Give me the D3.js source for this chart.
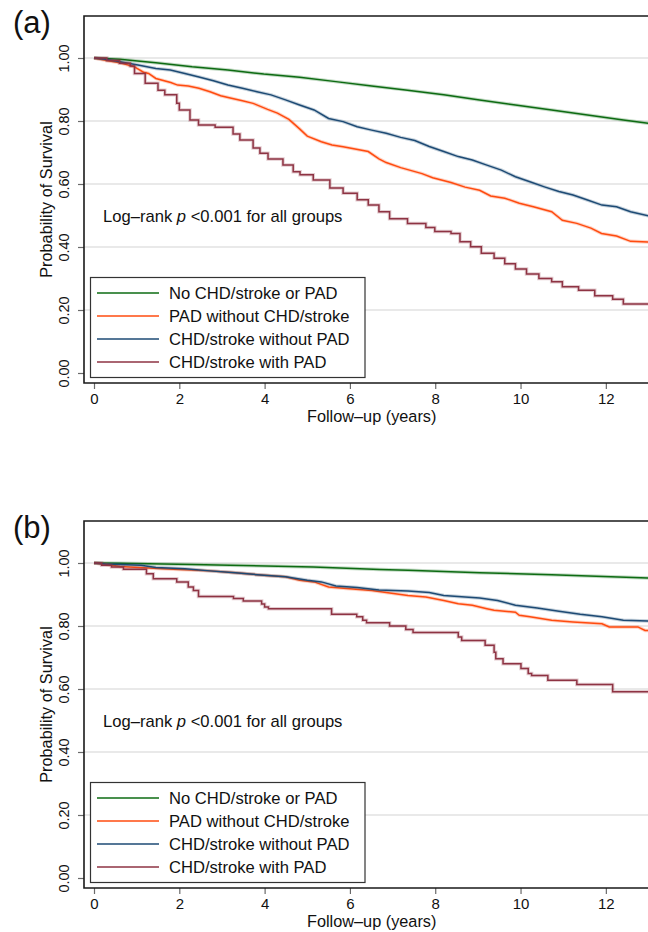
<!DOCTYPE html>
<html>
<head>
<meta charset="utf-8">
<script src="https://cdn.jsdelivr.net/npm/d3@7"></script>
<style>
body { margin: 0; background: #fff; }
text { font-family: "Liberation Sans", Arial, Helvetica, sans-serif; fill: #111; }
</style>
</head>
<body>
<div id="c"></div>
<script>
var groups = ["No CHD/stroke or PAD", "PAD without CHD/stroke", "CHD/stroke without PAD", "CHD/stroke with PAD"];
var colors = ["#0d6b12", "#ff4b0f", "#1d4a74", "#8e3343"];
var x_ticks = [0, 2, 4, 6, 8, 10, 12];
var y_ticks = [0, 0.2, 0.4, 0.6, 0.8, 1.0];
var grid_vals = [0.2, 0.4, 0.6, 0.8, 1.0];

// panel (a): [years, survival]
var a_none = [[0,1],[0.6,0.996],[1.45,0.985],[2.3,0.972],[3.14,0.962],[3.98,0.949],[4.82,0.939],[5.67,0.925],[6.51,0.911],[7.35,0.898],[8.2,0.883],[9.04,0.867],[9.88,0.851],[10.73,0.835],[11.57,0.819],[12.41,0.803],[13,0.793]];
var a_pad = [[0,1],[0.3,0.992],[0.61,0.985],[0.95,0.972],[1.16,0.955],[1.28,0.951],[1.45,0.935],[1.8,0.922],[1.96,0.914],[2.21,0.911],[2.46,0.904],[2.72,0.893],[2.97,0.88],[3.22,0.872],[3.48,0.864],[3.73,0.856],[4.07,0.837],[4.3,0.825],[4.57,0.805],[4.82,0.775],[5.0,0.752],[5.33,0.734],[5.58,0.724],[5.84,0.718],[6.43,0.703],[6.68,0.68],[6.85,0.668],[7.19,0.652],[7.69,0.633],[7.94,0.62],[8.37,0.605],[8.7,0.59],[9.04,0.58],[9.3,0.562],[9.63,0.555],[9.97,0.539],[10.3,0.528],[10.73,0.512],[10.98,0.485],[11.32,0.475],[11.65,0.46],[11.9,0.443],[12.25,0.435],[12.58,0.418],[13,0.416]];
var a_chd = [[0,1],[0.27,0.996],[0.61,0.988],[1.03,0.978],[1.45,0.967],[1.79,0.962],[2.13,0.951],[2.46,0.94],[2.8,0.928],[3.14,0.914],[3.48,0.904],[3.82,0.893],[4.15,0.883],[4.49,0.867],[4.82,0.851],[5.16,0.835],[5.5,0.808],[5.84,0.798],[6.17,0.782],[6.51,0.771],[6.85,0.761],[7.19,0.748],[7.52,0.738],[7.86,0.719],[8.2,0.703],[8.54,0.687],[8.87,0.676],[9.21,0.66],[9.55,0.644],[9.88,0.623],[10.22,0.607],[10.56,0.591],[10.9,0.576],[11.23,0.565],[11.57,0.549],[11.91,0.533],[12.25,0.528],[12.58,0.512],[13,0.499]];
var a_both = [[0,1],[0.3,0.992],[0.6,0.983],[0.85,0.975],[0.95,0.951],[1.2,0.92],[1.5,0.898],[1.66,0.883],[1.94,0.856],[2.0,0.835],[2.25,0.803],[2.45,0.787],[2.84,0.78],[3.26,0.759],[3.42,0.74],[3.73,0.714],[3.89,0.698],[4.08,0.679],[4.43,0.66],[4.67,0.639],[4.83,0.629],[5.14,0.613],[5.53,0.587],[5.84,0.571],[6.17,0.55],[6.43,0.533],[6.68,0.512],[6.93,0.49],[7.35,0.475],[7.78,0.462],[7.99,0.449],[8.37,0.443],[8.58,0.417],[8.83,0.401],[9.08,0.38],[9.38,0.364],[9.63,0.347],[9.88,0.33],[10.14,0.314],[10.43,0.3],[10.73,0.29],[10.98,0.274],[11.36,0.263],[11.74,0.245],[12.16,0.234],[12.41,0.219],[13,0.219]];

// panel (b)
var b_none = [[0,1],[0.61,0.999],[2.3,0.995],[3.19,0.993],[5.14,0.987],[6.7,0.979],[7.36,0.977],[9.04,0.969],[10.73,0.963],[13,0.952]];
var b_pad = [[0,1],[0.27,0.996],[0.61,0.989],[1.28,0.984],[1.87,0.98],[2.72,0.975],[3.31,0.969],[3.98,0.961],[4.49,0.956],[4.82,0.945],[5.16,0.94],[5.5,0.924],[5.92,0.919],[6.51,0.913],[7.02,0.903],[7.36,0.897],[7.78,0.892],[8.2,0.881],[8.54,0.871],[8.87,0.866],[9.21,0.855],[9.38,0.85],[9.88,0.844],[9.97,0.834],[10.22,0.829],[10.73,0.818],[11.23,0.813],[11.91,0.807],[12.08,0.797],[12.75,0.797],[12.92,0.786],[13,0.786]];
var b_chd = [[0,1],[0.27,0.997],[0.61,0.995],[1.1,0.993],[1.45,0.986],[2.13,0.982],[2.72,0.975],[3.31,0.969],[3.82,0.963],[4.49,0.956],[5.0,0.945],[5.33,0.94],[5.67,0.927],[6.17,0.922],[6.68,0.914],[7.36,0.911],[7.86,0.906],[8.2,0.897],[8.7,0.892],[9.04,0.889],[9.46,0.881],[9.88,0.866],[10.39,0.857],[10.9,0.847],[11.4,0.837],[11.91,0.829],[12.41,0.818],[13,0.816]];
var b_both = [[0,1],[0.18,0.993],[0.41,0.987],[0.69,0.98],[1.23,0.966],[1.39,0.95],[1.94,0.94],[2.21,0.924],[2.33,0.913],[2.45,0.894],[3.27,0.887],[3.5,0.879],[3.93,0.87],[4.0,0.86],[4.09,0.855],[5.57,0.837],[6.16,0.829],[6.3,0.818],[6.39,0.81],[6.93,0.8],[7.31,0.789],[7.48,0.779],[8.54,0.765],[8.62,0.754],[9.17,0.739],[9.38,0.717],[9.42,0.696],[9.59,0.68],[10.01,0.665],[10.18,0.649],[10.26,0.643],[10.64,0.628],[11.32,0.614],[12.16,0.591],[13,0.591]];

var width = 648, height = 932;
var frame_left = 84;

var svg = d3.select("#c").append("svg")
	.attr("width", width)
	.attr("height", height);

function draw_panel(off, label, series) {
	var g = svg.append("g").attr("transform", "translate(0," + off + ")");

	var x_scale = d3.scaleLinear().domain([0, 13]).range([94, 648.5]);
	var y_scale = d3.scaleLinear().domain([0, 1]).range([373, 58]);

	g.append("text")
		.attr("x", 13)
		.attr("y", 33)
		.style("font-size", "31px")
		.text(label);

	// grid
	g.selectAll(".grid")
		.data(grid_vals)
		.enter()
		.append("line")
		.attr("x1", frame_left)
		.attr("x2", width)
		.attr("y1", function(d) { return y_scale(d); })
		.attr("y2", function(d) { return y_scale(d); })
		.attr("stroke", "#e2e2e2")
		.attr("stroke-width", 1.5);

	// y axis
	var y_ax = g.append("g")
		.attr("transform", "translate(" + frame_left + ",0)")
		.call(d3.axisLeft(y_scale).tickValues(y_ticks).tickSize(6).tickPadding(0).tickFormat(d3.format(".2f")));
	y_ax.select(".domain").remove();
	y_ax.selectAll(".tick line").attr("stroke", "#6a6a6a").attr("stroke-width", 1.2);
	y_ax.selectAll(".tick text")
		.attr("transform", "rotate(-90)")
		.attr("x", 0)
		.attr("y", -15)
		.attr("dy", 0)
		.attr("text-anchor", "middle")
		.style("font-size", "14.5px")
		.attr("fill", "#111");

	// x axis
	var x_ax = g.append("g")
		.attr("transform", "translate(0,383)")
		.call(d3.axisBottom(x_scale).tickValues(x_ticks).tickSize(6).tickPadding(4));
	x_ax.select(".domain").remove();
	x_ax.selectAll(".tick line").attr("stroke", "#6a6a6a").attr("stroke-width", 1.2);
	x_ax.selectAll(".tick text")
		.style("font-size", "15px")
		.attr("fill", "#111");

	g.append("text")
		.attr("transform", "translate(52,199.5) rotate(-90)")
		.attr("text-anchor", "middle")
		.style("font-size", "16.3px")
		.text("Probability of Survival");

	g.append("text")
		.attr("x", 307)
		.attr("y", 422)
		.style("font-size", "16.3px")
		.text("Follow\u2013up (years)");

	// curves
	var clip_id = "clip" + off;
	g.append("clipPath").attr("id", clip_id)
		.append("rect").attr("x", frame_left).attr("y", 16).attr("width", width - frame_left).attr("height", 367);

	var line_smooth = d3.line()
		.x(function(d) { return x_scale(d[0]); })
		.y(function(d) { return y_scale(d[1]); });
	var line_step = d3.line()
		.x(function(d) { return x_scale(d[0]); })
		.y(function(d) { return y_scale(d[1]); })
		.curve(d3.curveStepAfter);

	var cg = g.append("g").attr("clip-path", "url(#" + clip_id + ")");
	series.forEach(function(s, i) {
		var gen = (i == 3) ? line_step : line_smooth;
		cg.append("path")
			.attr("d", gen(s))
			.attr("fill", "none")
			.attr("stroke", colors[i])
			.attr("stroke-opacity", 0.25)
			.attr("stroke-width", 3.5);
		cg.append("path")
			.attr("d", gen(s))
			.attr("fill", "none")
			.attr("stroke", colors[i])
			.attr("stroke-width", 1.5);
	});

	g.append("text")
		.attr("x", 103)
		.attr("y", 221.5)
		.style("font-size", "16.6px")
		.html("Log\u2013rank <tspan font-style='italic'>p</tspan> &lt;0.001 for all groups");

	// legend
	var lg = g.append("g");
	lg.append("rect")
		.attr("x", 90.5)
		.attr("y", 277.5)
		.attr("width", 274.5)
		.attr("height", 100)
		.attr("fill", "#fff")
		.attr("stroke", "#333")
		.attr("stroke-width", 1.2);
	groups.forEach(function(name, i) {
		var yy = 293 + i * 23;
		lg.append("line")
			.attr("x1", 97).attr("x2", 159)
			.attr("y1", yy).attr("y2", yy)
			.attr("stroke", colors[i])
			.attr("stroke-width", 1.4);
		lg.append("text")
			.attr("x", 169)
			.attr("y", yy + 6)
			.style("font-size", "16.6px")
			.text(name);
	});

	// frame
	g.append("path")
		.attr("d", "M" + width + ",16 H" + frame_left + " V383 H" + width)
		.attr("fill", "none")
		.attr("stroke", "#1a1a1a")
		.attr("stroke-width", 1.6);
}

draw_panel(0, "(a)", [a_none, a_pad, a_chd, a_both]);
draw_panel(505, "(b)", [b_none, b_pad, b_chd, b_both]);
</script>
</body>
</html>
